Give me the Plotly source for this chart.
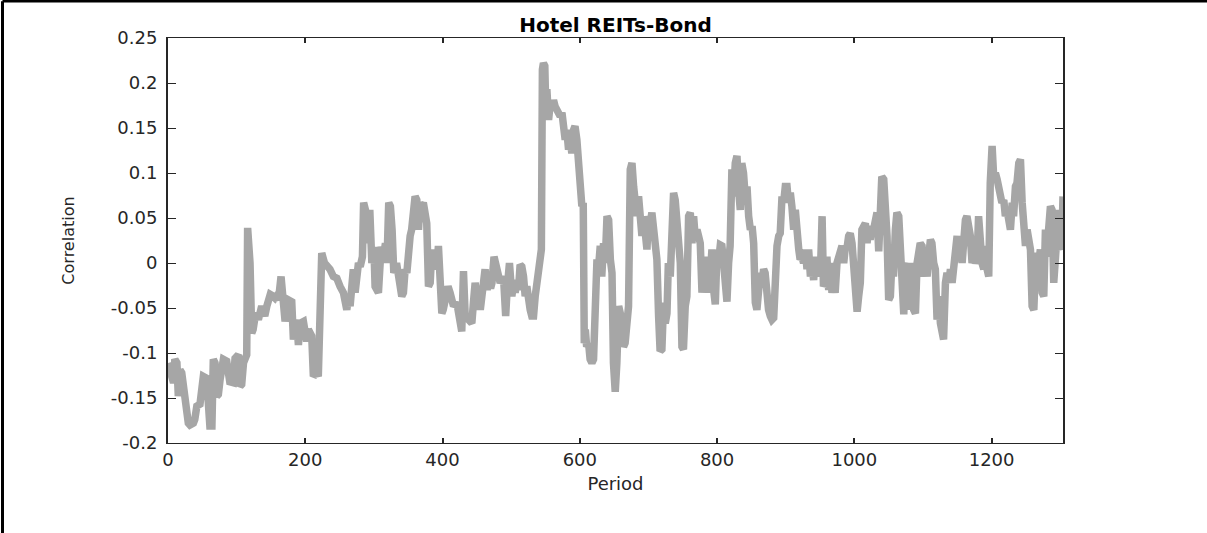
import plotly.graph_objects as go

# ---- data ----
period = [
    0, 5, 8, 10, 13, 15, 17.5, 20, 22.4, 24.8, 27.2, 29.6, 32, 37, 39, 42, 46.6, 49, 51.5, 56.4,
    58.8, 61, 64, 66, 68.5, 71, 73.4, 75.8, 80.7, 85.5, 88, 90, 95, 97.7, 102.5, 105, 107.4, 110,
    112, 114.7, 116, 118, 119.5, 122, 124, 127, 129, 131.7, 134, 136.5, 139, 141, 144, 146, 149,
    153.5, 156, 158,
    161, 164.7, 168, 170.6, 175.4, 180.3, 182.7, 187.5, 190, 192.4, 197.3, 202, 204.5, 209.4,
    211.8, 216.7, 219, 221.6, 224, 228, 231.3, 236, 241, 246, 250.7, 255.6, 260.5, 263, 265.3,
    270, 272.6, 277.5, 280, 283.3, 285, 287, 290, 292, 294, 297, 300, 301.7, 306.6, 310.5, 314,
    316.8, 319, 321.6, 324, 326.5, 329,
    331, 333, 335.8, 338, 340.6, 343, 345.5, 348, 350, 352.8, 355, 357.6, 360, 362.5, 365, 367,
    369.8, 372, 374.6, 377, 379.5, 382, 384.4, 386.8, 389, 391.6, 394, 396.5, 399, 401, 406, 408,
    411, 416, 420.8, 425.7, 428, 430.5, 433, 438, 442.7, 445, 447.5, 450, 452.4, 455, 457, 462,
    465, 467, 470, 472, 475, 477, 479, 484, 488.8, 492, 494, 497.5,
    501, 503.4, 505.8, 508.3, 510.7, 513, 515.5, 518, 520.4, 522.8, 525, 527.7, 530, 532.6, 535,
    537.4, 540, 542, 544, 545.5, 547, 549, 550.5, 552, 554.5, 557, 559, 561.7, 564, 566.6, 569,
    571.5, 574, 576, 578.7, 581, 583.6, 586, 588.4, 591, 593, 595.7, 598, 600.6, 603, 605, 606.5,
    608, 610, 612.8, 615, 617.6, 620, 622.4, 625, 627.4, 629.8, 632, 634.6, 637, 639.6, 642,
    644.5, 646.9, 649, 651.6, 654, 656.6, 659, 661.5,
    663.7, 666, 668.6, 671, 673.5, 676, 678.4, 680.8, 683, 685.6, 688, 690.5, 693, 695.3, 697.8,
    700, 702.6, 705, 707.5, 710, 712.3, 714.8, 717, 719.6, 722, 724.5, 727, 729, 731.8, 734,
    736.6, 739, 741.5, 744, 746.4, 748.8, 751, 753.6, 756, 758.5, 761, 763.4, 765.8, 768, 770.7,
    773, 775.5, 778, 780.4, 782.8, 785, 787.7, 790, 792.5, 795, 797.4, 800, 802, 804.7, 807,
    809.5, 812, 814.4, 816.8, 819, 821.6, 824, 826.5, 829, 831.4, 833.8,
    836, 838.5, 841, 843.6, 846, 848.5, 851, 853.3, 855.7, 858, 860.6, 863, 865.4, 867.8, 870,
    872.7, 875, 877.6, 880, 882.5, 885, 887.3, 889.8, 892, 894.6, 897, 899.4, 901.9, 904, 906.7,
    909, 911.6, 914, 916.4, 919, 921, 923.7, 926, 928.6, 931, 933.4, 936, 938, 940.7, 943, 945.6,
    948, 950.4, 953, 955, 957.7, 960, 962.6, 965, 967.4, 970, 972, 974.7, 977, 979.6, 982, 984.5,
    987, 989, 991.7, 994, 996.6, 999,
    1001.5, 1004, 1006.3, 1008.7, 1011, 1013.6, 1016, 1018.5, 1021, 1023, 1025.8, 1028, 1030.6,
    1033, 1035.5, 1038, 1040, 1042.8, 1045, 1047.6, 1050, 1052.5, 1055, 1057, 1059.8, 1062,
    1064.7, 1067, 1069.5, 1072, 1074.3, 1076.8, 1079, 1081.6, 1084, 1086.5, 1089, 1091.4, 1093.8,
    1096, 1098.6, 1101, 1103.5, 1106, 1108.3, 1110.8, 1113, 1115.6, 1118, 1120.5, 1123, 1125.4,
    1127.8, 1130, 1132.7, 1135, 1137.5, 1140, 1142.4, 1144.8, 1147, 1149.7, 1152, 1154.5, 1157,
    1159.4, 1161.8, 1164, 1166.7,
    1169, 1171.5, 1174, 1176.4, 1178.8, 1181, 1183.7, 1186, 1188.6, 1191, 1193.4, 1195.8, 1198,
    1200.7, 1203, 1205.5, 1208, 1210.4, 1212.8, 1215, 1217.7, 1220, 1222.5, 1225, 1227.4, 1230,
    1232, 1234.7, 1237, 1239.6, 1242, 1244.5, 1247, 1249.3, 1251.7, 1254, 1256.6, 1259, 1261.5,
    1264, 1266.3, 1268.7, 1271, 1273.6, 1276, 1278.4, 1280.9, 1283, 1285.7, 1288, 1290.5, 1293,
    1295.4, 1297.8, 1300, 1302, 1304,
]

correlation = [
    -0.111, -0.122, -0.133, -0.107, -0.111, -0.148, -0.119, -0.122, -0.141, -0.139, -0.159, -0.178,
    -0.180, -0.178, -0.174, -0.159, -0.157, -0.144, -0.126, -0.128, -0.180, -0.181, -0.181, -0.107,
    -0.111, -0.148, -0.146, -0.130, -0.107, -0.109, -0.130, -0.132, -0.133, -0.106, -0.102, -0.137,
    -0.135, -0.111, -0.102, -0.102, 0.039, 0.018, 0.000, -0.078, -0.074, -0.059, -0.056, -0.063,
    -0.056, -0.048, -0.054, -0.059, -0.048, -0.041, -0.035, -0.037, -0.039, -0.037,
    -0.041, -0.015, -0.044, -0.065, -0.041, -0.043, -0.085, -0.063, -0.091, -0.067, -0.065, -0.087,
    -0.074, -0.081, -0.126, -0.122, -0.126, 0.004, 0.011, 0.000, -0.002, -0.007, -0.015, -0.017,
    -0.026, -0.033, -0.052, -0.037, -0.048, -0.007, -0.033, 0.000, -0.004, 0.007, 0.067, 0.063,
    0.052, 0.022, 0.059, 0.000, 0.018, -0.026, -0.033, 0.018, 0.007, 0.022, 0.000, 0.067, 0.063,
    0.037, -0.011,
    -0.007, 0.000, -0.015, -0.026, -0.037, -0.033, -0.007, -0.011, 0.022, 0.030, 0.037, 0.070,
    0.074, 0.070, 0.037, 0.067, 0.063, 0.067, 0.048, 0.044, -0.026, -0.022, 0.015, 0.000, 0.004,
    -0.007, 0.019, -0.044, -0.056, -0.052, -0.037, -0.026, -0.033, -0.048, -0.044, -0.074, -0.076,
    -0.009, -0.059, -0.063, -0.067, -0.044, -0.022, -0.037, -0.030, -0.052, -0.041, -0.007, -0.030,
    -0.015, -0.028, -0.022, 0.007, 0.000, -0.011, -0.022, -0.015, -0.059, -0.030, 0.000,
    -0.037, -0.022, -0.033, -0.019, -0.030, -0.002, -0.004, -0.015, -0.037, -0.026, -0.048, -0.052,
    -0.059, -0.059, -0.037, -0.026, -0.004, 0.007, 0.015, 0.215, 0.222, 0.219, 0.167, 0.193, 0.159,
    0.178, 0.170, 0.181, 0.174, 0.170, 0.170, 0.163, 0.167, 0.152, 0.137, 0.148, 0.126, 0.137,
    0.122, 0.148, 0.152, 0.137, 0.111, 0.089, 0.063, 0.067, -0.089, -0.074, -0.093, -0.089, -0.107,
    -0.111, -0.107, 0.000, 0.004, -0.004, 0.019, -0.015, 0.022, 0.000, 0.052, 0.048, 0.004, -0.011,
    -0.111, -0.143, -0.111, -0.048, -0.056, -0.074,
    -0.093, -0.089, -0.056, -0.048, 0.104, 0.111, 0.085, 0.074, 0.052, 0.074, 0.037, 0.030, 0.052,
    0.022, 0.015, 0.052, 0.044, 0.056, 0.037, 0.015, 0.004, -0.059, -0.098, -0.096, -0.044, -0.067,
    -0.056, 0.000, -0.015, 0.074, 0.078, 0.070, 0.044, 0.030, 0.000, -0.093, -0.096, -0.048, -0.037,
    0.052, 0.056, 0.022, 0.052, 0.030, 0.037, 0.030, 0.022, -0.033, 0.000, 0.007, -0.033, 0.000,
    -0.015, 0.015, -0.030, -0.046, 0.015, 0.000, 0.020, 0.019, 0.000, -0.041, -0.043, 0.000, 0.019,
    0.104, 0.074, 0.111, 0.119, 0.081, 0.059,
    0.111, 0.100, 0.074, 0.085, 0.052, 0.037, 0.041, 0.022, -0.044, -0.052, -0.030, -0.011, -0.022,
    -0.007, -0.011, -0.044, -0.052, -0.059, -0.063, -0.061, 0.000, 0.019, 0.030, 0.033, 0.074,
    0.067, 0.085, 0.085, 0.067, 0.078, 0.063, 0.037, 0.059, 0.022, 0.015, 0.004, 0.007, 0.000,
    0.015, -0.007, 0.015, -0.015, 0.000, -0.019, 0.007, -0.007, 0.000, -0.015, 0.052, -0.026,
    -0.022, 0.007, -0.030, 0.000, -0.033, -0.022, -0.033, 0.000, 0.007, 0.015, 0.019, 0.000, 0.019,
    0.015, 0.030, 0.033, 0.022, 0.000,
    -0.044, -0.054, -0.037, -0.022, 0.037, 0.041, 0.044, 0.022, 0.041, 0.026, 0.041, 0.037, 0.052,
    0.056, 0.013, 0.093, 0.096, 0.093, 0.067, 0.030, -0.041, -0.037, 0.007, -0.015, 0.037, 0.056,
    0.052, 0.000, -0.056, -0.057, -0.007, 0.000, -0.052, -0.007, 0.000, -0.052, -0.056, 0.000,
    0.011, 0.022, 0.019, -0.015, 0.000, -0.015, 0.007, 0.026, 0.022, 0.000, -0.007, -0.063, -0.037,
    -0.067, -0.074, -0.085, -0.022, -0.011, -0.022, -0.007, -0.022, 0.000, 0.022, 0.030, 0.007,
    0.022, 0.000, 0.030, 0.048, 0.052, 0.037,
    0.030, 0.000, 0.007, 0.000, 0.004, 0.052, 0.007, 0.000, -0.007, 0.019, -0.007, -0.015, 0.089,
    0.130, 0.096, 0.100, 0.093, 0.085, 0.074, 0.067, 0.070, 0.052, 0.059, 0.041, 0.037, 0.067,
    0.052, 0.085, 0.089, 0.111, 0.115, 0.067, 0.022, 0.019, 0.037, 0.030, 0.015, -0.048, -0.052,
    0.000, 0.011, 0.000, 0.015, -0.033, -0.037, 0.037, 0.007, 0.037, 0.063, 0.059, -0.022, 0.000,
    0.037, 0.059, 0.019, 0.015, 0.074,
]

x_ticks = [0, 200, 400, 600, 800, 1000, 1200]
y_ticks = [-0.2, -0.15, -0.1, -0.05, 0, 0.05, 0.1, 0.15, 0.2, 0.25]
y_tick_text = ["-0.2", "-0.15", "-0.1", "-0.05", "0", "0.05", "0.1", "0.15", "0.2", "0.25"]

title_text = "Hotel REITs-Bond"
x_title = "Period"
y_title = "Correlation"

FONT = "DejaVu Sans"
INK = "#262626"

fig = go.Figure()
fig.add_trace(go.Scatter(
    x=period, y=correlation, mode="lines",
    line=dict(color="#a6a6a6", width=7.5),
    hoverinfo="skip", showlegend=False,
))

fig.update_layout(
    width=1207, height=533,
    margin=dict(l=168, r=144, t=38, b=90, pad=0),
    paper_bgcolor="white", plot_bgcolor="white",
    font=dict(family=FONT, color=INK),
    title=dict(text="<b>" + title_text + "</b>", x=0.5, xref="paper", xanchor="center",
               y=1 - 24.5 / 533, yref="container", yanchor="middle",
               font=dict(family=FONT, size=20, color="black")),
    showlegend=False,
)

fig.update_xaxes(
    range=[0, 1304], tickvals=x_ticks, ticktext=[str(v) for v in x_ticks],
    ticks="inside", ticklen=5, tickwidth=2, tickcolor=INK,
    showline=True, linecolor=INK, linewidth=1, mirror="allticks",
    showgrid=False, zeroline=False,
    tickfont=dict(family=FONT, size=18, color=INK),
    title=dict(text=x_title, font=dict(family=FONT, size=18, color=INK), standoff=8),
)
fig.update_yaxes(
    range=[-0.2, 0.25], tickvals=y_ticks, ticktext=y_tick_text,
    ticks="inside", ticklen=8, tickwidth=1, tickcolor=INK,
    showline=True, linecolor=INK, linewidth=2, mirror="allticks",
    showgrid=False, zeroline=False, ticklabelstandoff=5,
    tickfont=dict(family=FONT, size=18, color=INK),
    title=dict(text=y_title, font=dict(family=FONT, size=16, color=INK), standoff=32),
)

# outer figure frame (top and left edges visible in the reference)
top_y = (443 - 1.2) / 405
left_x = (2.5 - 168) / 895
fig.add_shape(type="line", xref="paper", yref="paper",
              x0=left_x, x1=(1207 - 168) / 895 + 0.01, y0=top_y, y1=top_y,
              line=dict(color="black", width=2.5))
fig.add_shape(type="line", xref="paper", yref="paper",
              x0=left_x, x1=left_x, y0=top_y, y1=(443 - 540) / 405,
              line=dict(color="black", width=3))

fig.write_html("out.html", config={"displayModeBar": False},
               post_script="document.body.style.margin='0';")
